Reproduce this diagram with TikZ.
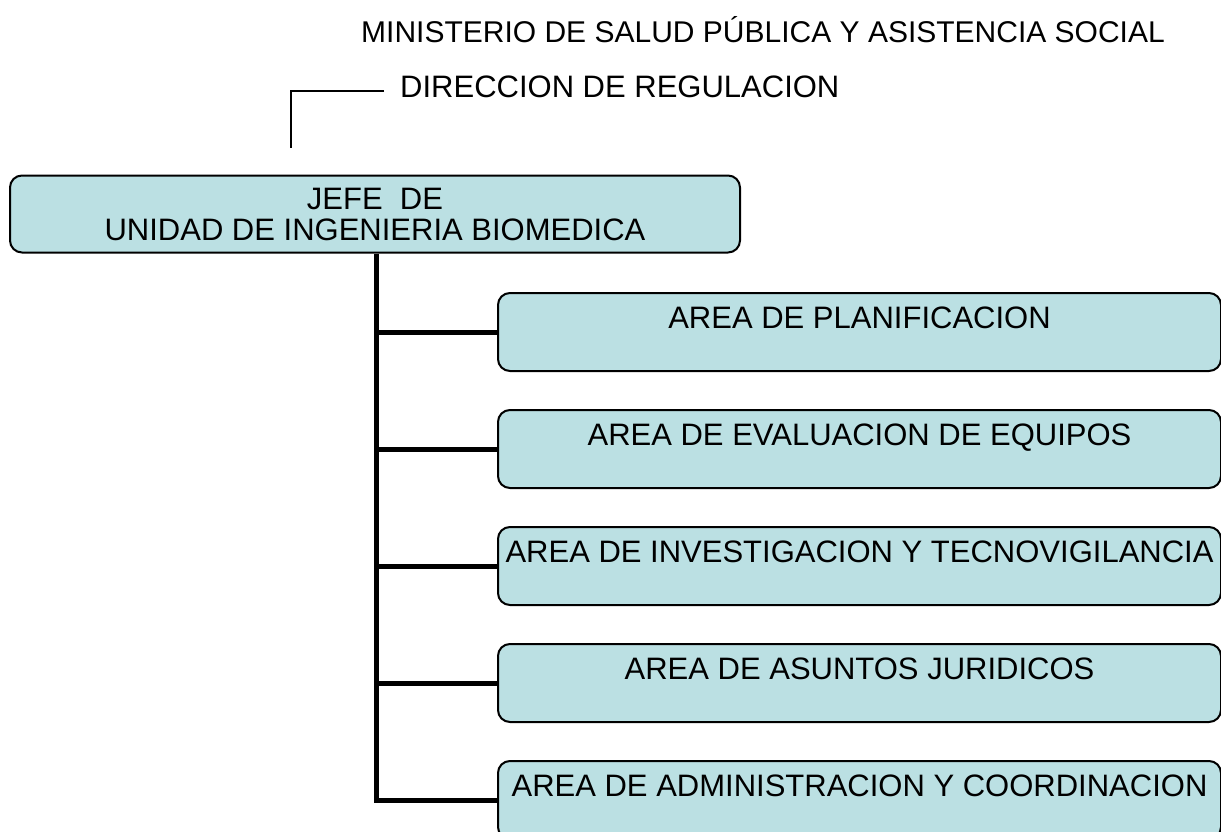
\documentclass[tikz,border=0pt]{standalone}
\usepackage{fontspec}
\setmainfont{Liberation Sans}
\usepackage{xcolor}
\usetikzlibrary{positioning}
\definecolor{boxblue}{HTML}{BBE0E3}

\begin{document}
\begin{tikzpicture}[x=1pt,y=-1pt,font=\fontsize{31}{34}\selectfont,
    area box/.style={rectangle,rounded corners=12pt,draw,line width=2pt,fill=boxblue,
      anchor=north west,minimum width=723pt,inner xsep=0pt,inner ysep=0pt,
      text height=35pt,text depth=43pt}]
            \tikzstyle{title text}=[inner sep=0pt]
            \tikzstyle{chief box}=[rectangle,rounded corners=12pt,draw,line width=2pt,fill=boxblue,
              minimum width=730pt,minimum height=77pt,align=center,inner sep=0pt]
            \tikzstyle{trunk line}=[line width=5pt]
            \tikzstyle{thin line}=[line width=1.5pt]
            \useasboundingbox (0,0) rectangle (1221,832);
            % headings
            \node(ministry)[title text,font=\fontsize{30}{34}\selectfont] at (763,30){MINISTERIO DE SALUD PÚBLICA Y ASISTENCIA SOCIAL};
            \node(regulation)[title text,anchor=west] at (400,87){DIRECCION DE REGULACION};
            \coordinate(regfoot) at (291,148);
            \draw[thin line] ([xshift=-16pt,yshift=-4pt]regulation.west) -| (regfoot);
            % chief
            \node(chief)[chief box] at (375,214){JEFE\ \ DE\\[-3pt]UNIDAD DE INGENIERIA BIOMEDICA};
            % areas
            \node(a1)[area box] at (497,292){AREA DE PLANIFICACION};
            \node(a2)[area box] at (497,409){AREA DE EVALUACION DE EQUIPOS};
            \node(a3)[area box] at (497,526){AREA DE INVESTIGACION Y TECNOVIGILANCIA};
            \node(a4)[area box] at (497,643){AREA DE ASUNTOS JURIDICOS};
            \node(a5)[area box] at (497,760){AREA DE ADMINISTRACION Y COORDINACION};
            % connectors
            \coordinate(trunk) at (376,0);
            \draw[trunk line] (chief.south -| trunk) |- (a5.west);
            \foreach \i in {1,...,4}
              \draw[trunk line] (a\i.west -| trunk) -- (a\i.west);
\end{tikzpicture}
\end{document}
